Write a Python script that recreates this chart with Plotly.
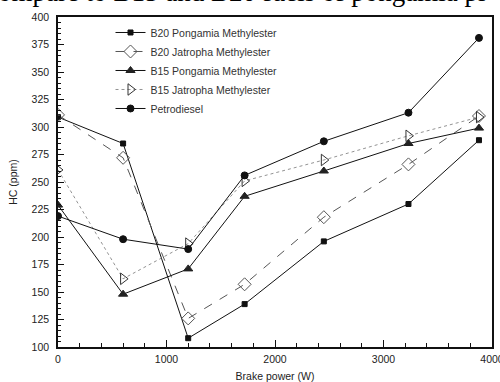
import plotly.graph_objects as go

power = [0, 600, 1200, 1720, 2450, 3230, 3880]
b20_pongamia = [309, 285, 108, 139, 196, 230, 288]
b20_jatropha = [311, 272, 126, 157, 218, 266, 310]
b15_pongamia = [229, 148, 171, 237, 260, 285, 299]
b15_jatropha = [261, 162, 194, 251, 270, 292, 309]
petrodiesel = [219, 198, 189, 256, 287, 313, 381]

series = [
    ("B20 Pongamia Methylester", b20_pongamia, "solid", "square", 5, "#111", "#111", 1.0),
    ("B20 Jatropha Methylester", b20_jatropha, "dash", "diamond-open", 10, "#555", "#555", 1.0),
    ("B15 Pongamia Methylester", b15_pongamia, "solid", "triangle-up", 8, "#111", "#222", 1.0),
    ("B15 Jatropha Methylester", b15_jatropha, "dot", "triangle-right-open", 10, "#777", "#333", 0.8),
    ("Petrodiesel", petrodiesel, "solid", "circle", 7, "#111", "#111", 1.0),
]

fig = go.Figure()
for name, ys, dash, sym, size, lc, mc, lw in series:
    fig.add_trace(go.Scatter(
        x=power, y=ys, name=name, mode="lines+markers",
        line=dict(color=lc, width=lw, dash=dash),
        marker=dict(symbol=sym, size=size, color=mc, line=dict(color=mc, width=1)),
    ))

font = "Liberation Sans, Arial, sans-serif"
fig.update_layout(
    width=500, height=382,
    margin=dict(l=58, r=8, t=17, b=35, autoexpand=False),
    paper_bgcolor="white", plot_bgcolor="white",
    font=dict(family=font, size=10, color="#222"),
    showlegend=True,
    legend=dict(x=0.121, y=0.997, xanchor="left", yanchor="top",
                bgcolor="rgba(0,0,0,0)", font=dict(size=10.5, color="#333"),
                tracegroupgap=0, itemwidth=30),
    xaxis=dict(range=[0, 4000], tickvals=[0, 1000, 2000, 3000, 4000],
               ticks="inside", ticklen=7, tickwidth=1, tickcolor="#111",
               minor=dict(dtick=200, ticks="inside", ticklen=4, tickcolor="#111"),
               showline=True, linecolor="#111", linewidth=1.5, mirror=True,
               showgrid=False, zeroline=False, automargin=False,
               ticklabeloverflow="allow", ticklabelstandoff=2,
               title=dict(text="Brake power (W)", font=dict(size=10.5), standoff=10),
               tickfont=dict(size=10.5)),
    yaxis=dict(range=[100, 400], dtick=25,
               ticks="inside", ticklen=6, tickwidth=1, tickcolor="#111",
               minor=dict(dtick=5, ticks="inside", ticklen=3, tickcolor="#111"),
               showline=True, linecolor="#111", linewidth=1.5, mirror=True,
               showgrid=False, zeroline=False, automargin=False,
               ticklabelstandoff=5,
               title=dict(text="HC (ppm)", font=dict(size=10.5), standoff=12),
               tickfont=dict(size=10.5)),
)

fig.add_annotation(
    text="compare to B15 and B20 fuels of pongamia pl",
    xref="paper", yref="paper", x=-0.171, y=1, xanchor="left", yanchor="bottom",
    yshift=8, showarrow=False,
    font=dict(family="Liberation Serif, Times New Roman, serif", size=27, color="#000"),
)

fig.write_html("out.html", config={"displayModeBar": False},
               post_script="document.body.style.margin='0';")
